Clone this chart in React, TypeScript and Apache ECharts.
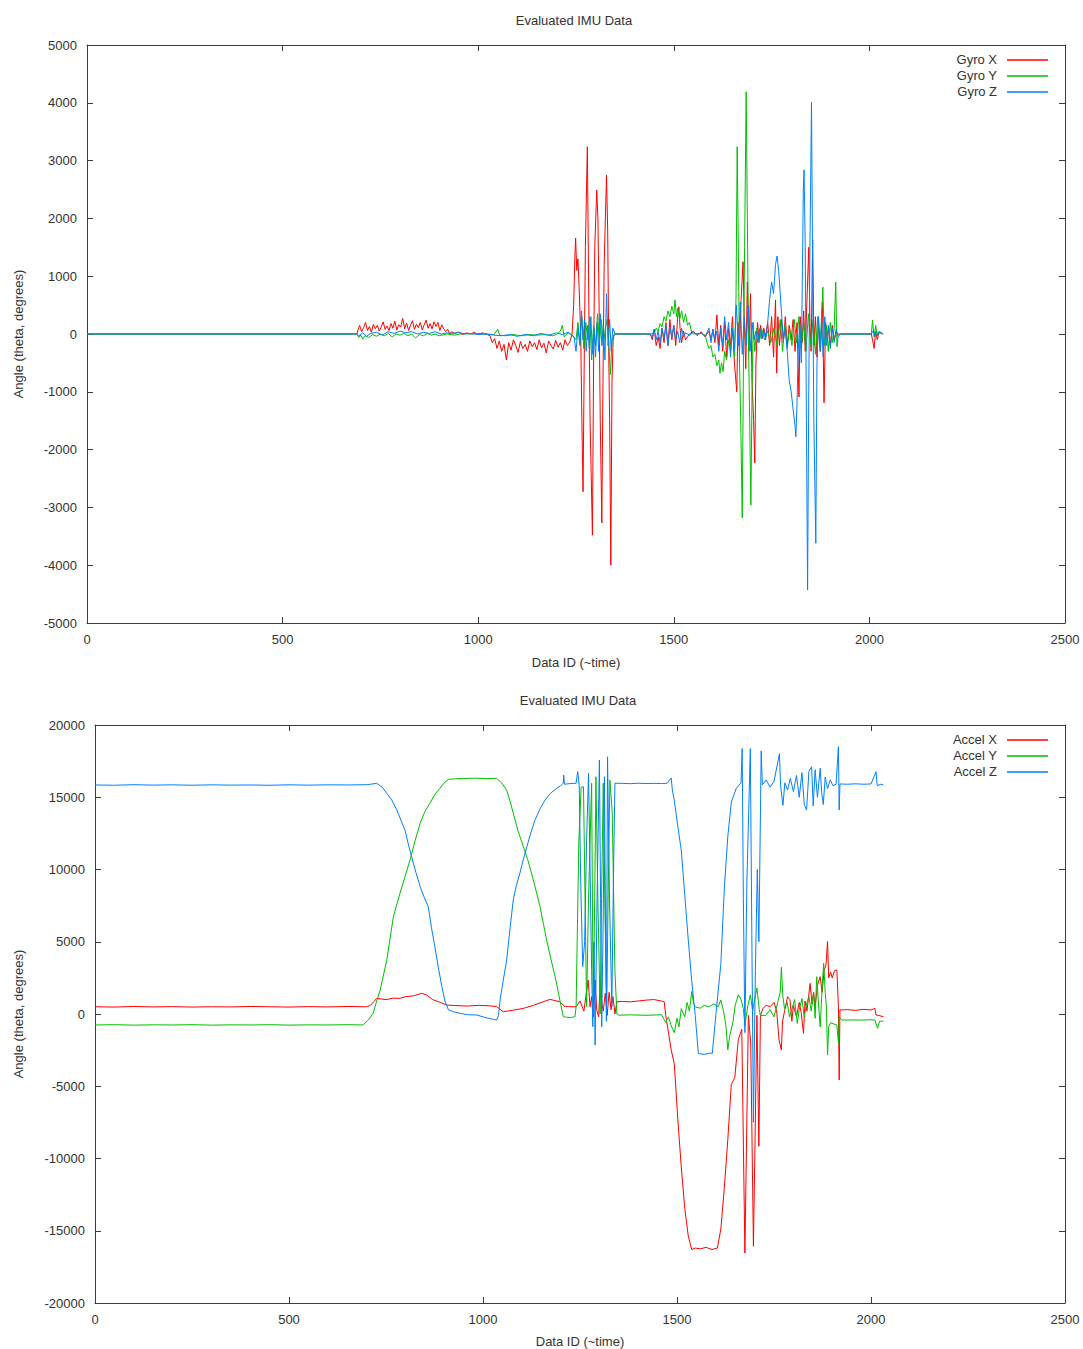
import React, { useEffect, useRef } from "react";
import * as echarts from "echarts";

// ---------- Data ----------
const titleText = "Evaluated IMU Data";
const xName = "Data ID (~time)";
const yName = "Angle (theta, degrees)";
const gyroNames = ["Gyro X", "Gyro Y", "Gyro Z"];
const accelNames = ["Accel X", "Accel Y", "Accel Z"];

const gyroX: number[][] = [[0,0],[680,0],[690,0],[692,60],[697,150],[702,40],[707,110],[712,200],[717,60],[722,130],[727,30],[732,170],[737,90],[742,150],[747,50],[752,120],[757,210],[762,80],[767,140],[772,60],[777,180],[782,100],[787,220],[792,70],[797,160],[802,120],[807,270],[812,90],[817,190],[822,60],[827,150],[832,230],[837,80],[842,170],[847,110],[852,200],[857,70],[862,160],[867,240],[872,100],[877,180],[882,90],[887,210],[892,130],[897,200],[902,60],[907,160],[912,90],[917,40],[922,80],[927,0],[932,40],[940,10],[950,30],[960,-10],[970,20],[980,0],[990,30],[1000,-10],[1010,20],[1020,0],[1030,-30],[1036,-150],[1042,-80],[1048,-250],[1054,-120],[1060,-300],[1066,-180],[1072,-450],[1078,-150],[1084,-280],[1090,-100],[1096,-200],[1102,-320],[1108,-130],[1114,-250],[1120,-180],[1126,-300],[1132,-120],[1138,-220],[1144,-150],[1150,-270],[1156,-100],[1162,-240],[1168,-160],[1174,-330],[1180,-120],[1186,-200],[1192,-260],[1198,-110],[1204,-230],[1210,-150],[1216,-280],[1222,-100],[1228,-200],[1234,-140],[1240,0],[1244,500],[1247,1300],[1249,1660],[1252,1100],[1255,1300],[1258,800],[1262,0],[1265,-1500],[1268,-2730],[1271,-500],[1274,1500],[1279,3240],[1282,1000],[1286,-1500],[1292,-3480],[1295,-500],[1298,1500],[1303,2490],[1306,2000],[1309,500],[1312,-1500],[1316,-3270],[1319,-800],[1322,1200],[1328,2750],[1331,1800],[1334,-500],[1336,-1500],[1339,-4000],[1342,-800],[1345,-100],[1348,0],[1440,0],[1445,-100],[1450,80],[1455,-200],[1460,-50],[1465,-250],[1470,100],[1475,-150],[1480,200],[1485,-200],[1490,250],[1495,-100],[1500,150],[1505,-200],[1510,300],[1513,470],[1516,100],[1520,-150],[1525,50],[1530,-100],[1540,0],[1550,50],[1560,-30],[1570,40],[1580,-50],[1590,50],[1595,-100],[1600,80],[1605,-150],[1610,330],[1615,-200],[1620,150],[1625,-300],[1630,200],[1635,-400],[1640,100],[1645,-200],[1650,300],[1655,-500],[1661,-1000],[1664,200],[1668,-300],[1672,600],[1677,1250],[1680,300],[1684,-600],[1688,900],[1692,-300],[1696,700],[1700,-800],[1704,-1500],[1707,-2230],[1710,-500],[1714,200],[1718,-100],[1722,150],[1726,-80],[1730,100],[1735,-50],[1740,200],[1745,-200],[1750,300],[1755,-400],[1760,588],[1763,-677],[1766,300],[1770,-200],[1775,250],[1780,-150],[1785,300],[1790,-200],[1795,150],[1800,-100],[1805,250],[1810,-300],[1815,200],[1820,-1090],[1823,300],[1828,-150],[1832,400],[1836,-300],[1840,500],[1845,1500],[1848,200],[1851,-300],[1855,1630],[1858,-200],[1862,300],[1866,-400],[1870,200],[1875,-300],[1880,550],[1884,-1190],[1888,200],[1892,-100],[1896,100],[1900,-200],[1905,150],[1910,-100],[1915,50],[1920,0],[2005,0],[2008,-100],[2012,-250],[2016,50],[2020,-100],[2025,30],[2035,0]];

const gyroY: number[][] = [[0,0],[690,0],[695,-60],[700,-20],[705,-90],[710,-30],[720,-60],[730,-10],[740,-40],[750,0],[760,-30],[770,10],[780,-50],[790,0],[800,-20],[810,10],[820,-30],[830,0],[840,-70],[850,-10],[860,-30],[870,10],[880,-20],[890,0],[900,-30],[920,0],[940,-20],[960,10],[980,0],[1000,10],[1020,0],[1040,-10],[1050,80],[1055,-20],[1070,-30],[1090,-10],[1110,-30],[1130,-10],[1150,-20],[1170,-10],[1190,-30],[1200,-10],[1210,50],[1215,150],[1220,-50],[1230,20],[1240,-20],[1250,-100],[1255,200],[1260,-150],[1265,300],[1270,-250],[1275,200],[1280,-100],[1285,300],[1290,-450],[1295,150],[1300,-200],[1305,350],[1310,-150],[1315,250],[1320,-200],[1325,100],[1330,250],[1335,-300],[1338,-700],[1342,-100],[1348,0],[1440,0],[1450,20],[1455,100],[1460,50],[1465,180],[1470,120],[1475,300],[1480,220],[1485,400],[1490,300],[1495,480],[1500,350],[1503,590],[1507,300],[1510,450],[1515,250],[1520,400],[1525,200],[1530,350],[1535,150],[1540,200],[1545,50],[1550,0],[1570,10],[1580,-20],[1585,-150],[1590,-250],[1595,-200],[1600,-400],[1605,-350],[1610,-550],[1615,-450],[1618,-680],[1622,-500],[1626,-650],[1630,-300],[1635,-450],[1640,-100],[1645,-300],[1650,100],[1655,-400],[1659,600],[1662,3240],[1665,1500],[1668,-500],[1671,-1500],[1675,-3180],[1678,-500],[1681,1500],[1685,4190],[1688,2000],[1691,-200],[1694,-1500],[1697,-2960],[1700,-1000],[1703,200],[1707,-300],[1712,100],[1718,-150],[1725,80],[1732,-100],[1740,50],[1748,-150],[1756,100],[1764,-200],[1772,250],[1778,-300],[1784,150],[1790,-250],[1796,100],[1802,-200],[1808,250],[1814,-150],[1820,300],[1826,-250],[1832,200],[1838,-300],[1844,350],[1850,-200],[1856,250],[1862,-350],[1868,300],[1874,-250],[1881,810],[1885,-200],[1890,150],[1895,-300],[1900,200],[1905,-150],[1910,100],[1914,900],[1917,-220],[1920,-50],[1925,0],[2005,0],[2008,240],[2012,-50],[2016,150],[2020,-30],[2025,50],[2035,0]];

const gyroZ: number[][] = [[0,0],[690,0],[695,-30],[705,20],[715,-40],[725,10],[740,30],[755,-20],[770,40],[785,10],[800,50],[815,20],[830,40],[845,0],[860,30],[875,10],[890,40],[905,0],[920,20],[935,10],[950,30],[965,0],[980,10],[1000,-10],[1020,0],[1040,-20],[1060,-30],[1080,-10],[1100,-40],[1120,-10],[1140,-30],[1160,10],[1180,-20],[1200,20],[1215,-10],[1230,30],[1245,-50],[1250,-300],[1255,100],[1260,-200],[1264,400],[1268,-100],[1272,250],[1276,-300],[1280,150],[1284,-250],[1288,300],[1292,-350],[1296,100],[1300,-400],[1304,200],[1308,-300],[1312,350],[1316,-200],[1320,150],[1324,-450],[1328,700],[1332,-200],[1336,250],[1340,-300],[1344,100],[1350,0],[1440,0],[1445,-50],[1450,80],[1455,-100],[1460,50],[1465,-150],[1470,100],[1475,-80],[1480,150],[1485,-200],[1490,100],[1495,-50],[1500,150],[1505,-100],[1510,50],[1515,-150],[1520,100],[1525,-50],[1530,20],[1540,-20],[1550,30],[1560,-10],[1570,20],[1580,-40],[1590,100],[1595,-150],[1600,80],[1605,-100],[1610,50],[1615,-300],[1620,100],[1625,-200],[1630,300],[1635,-100],[1640,200],[1645,-400],[1650,100],[1655,-300],[1660,500],[1665,-200],[1670,550],[1675,-350],[1680,300],[1685,-200],[1690,500],[1695,-300],[1700,200],[1705,-100],[1710,50],[1715,-150],[1720,100],[1725,-80],[1730,50],[1735,-100],[1740,200],[1745,600],[1750,900],[1755,700],[1760,1200],[1764,1350],[1768,1100],[1772,700],[1776,300],[1780,-100],[1785,100],[1790,-300],[1795,-800],[1800,-1000],[1805,-1300],[1810,-1600],[1812,-1780],[1815,-1200],[1818,-300],[1822,200],[1826,-500],[1830,1800],[1831,2490],[1833,2840],[1836,1500],[1839,-1500],[1842,-4430],[1845,-1000],[1848,1500],[1852,4010],[1855,1000],[1858,-1500],[1863,-3620],[1866,-500],[1870,300],[1874,-300],[1878,200],[1882,-400],[1886,300],[1890,-200],[1895,150],[1900,-250],[1905,100],[1910,-150],[1915,80],[1920,-50],[1925,0],[2005,0],[2010,60],[2014,-40],[2018,50],[2022,-20],[2026,30],[2035,0]];

const accelX: number[][] = [[0,500],[50,480],[100,520],[150,490],[200,510],[250,480],[300,500],[350,490],[400,520],[450,500],[500,480],[550,510],[600,490],[650,520],[700,500],[710,600],[726,1080],[750,1000],[770,1100],[786,1080],[800,1200],[820,1250],[842,1430],[855,1310],[870,1000],[890,800],[906,620],[930,580],[960,550],[990,600],[1020,560],[1035,510],[1052,160],[1075,250],[1104,390],[1130,600],[1150,800],[1173,1010],[1198,850],[1211,510],[1240,500],[1250,900],[1260,200],[1265,1200],[1271,2350],[1276,500],[1280,1200],[1284,-200],[1289,2350],[1293,300],[1298,-190],[1302,1890],[1306,800],[1310,200],[1315,1430],[1320,-100],[1325,1500],[1330,300],[1335,1200],[1340,0],[1345,850],[1360,870],[1380,840],[1400,900],[1420,960],[1440,1000],[1460,900],[1467,850],[1471,-100],[1485,-2480],[1493,-3440],[1502,-7250],[1511,-10590],[1520,-13450],[1529,-15360],[1538,-16300],[1547,-16200],[1560,-16250],[1575,-16150],[1590,-16300],[1604,-16200],[1613,-14880],[1622,-12020],[1631,-8680],[1640,-4870],[1649,-4400],[1658,-1770],[1667,-1060],[1675,-16540],[1684,-100],[1690,-2000],[1697,-16070],[1706,-100],[1711,-9150],[1715,-100],[1722,400],[1730,600],[1740,500],[1750,800],[1757,200],[1763,-1800],[1769,-2480],[1772,-500],[1778,300],[1785,1200],[1791,1000],[1796,-500],[1800,600],[1808,-200],[1815,800],[1820,100],[1826,-1340],[1830,900],[1835,200],[1843,2120],[1848,700],[1852,1500],[1856,500],[1862,2000],[1869,2580],[1874,1500],[1879,3000],[1884,3390],[1888,5010],[1891,2500],[1896,2900],[1900,2500],[1906,3000],[1912,3050],[1916,510],[1918,-4570],[1920,280],[1940,300],[1960,250],[1980,320],[2000,280],[2010,390],[2013,-70],[2020,-100],[2032,-190]];

const accelY: number[][] = [[0,-760],[50,-740],[100,-770],[150,-750],[200,-760],[250,-740],[300,-770],[350,-750],[400,-760],[450,-740],[500,-770],[550,-750],[600,-760],[650,-740],[691,-760],[705,-400],[717,50],[726,900],[735,1660],[752,3740],[769,6730],[786,8350],[800,9600],[812,10660],[825,12000],[838,13200],[850,14000],[863,14580],[876,15200],[889,15620],[900,16000],[911,16240],[930,16280],[950,16300],[980,16320],[1010,16290],[1035,16310],[1048,16000],[1061,15500],[1070,14700],[1078,13890],[1090,12700],[1104,11580],[1115,10700],[1125,9740],[1136,8600],[1147,7430],[1156,6200],[1164,5120],[1175,3800],[1186,2580],[1198,970],[1207,-190],[1215,-220],[1225,-250],[1237,-190],[1240,500],[1247,12000],[1253,15700],[1259,15730],[1263,8000],[1267,510],[1272,8000],[1280,15970],[1284,0],[1288,8000],[1291,16420],[1296,8000],[1302,0],[1306,9000],[1310,15970],[1315,6000],[1319,740],[1323,9000],[1327,16190],[1333,14000],[1340,3000],[1345,0],[1350,-80],[1380,-60],[1420,-90],[1460,-50],[1471,-580],[1478,-200],[1485,-810],[1493,-1290],[1500,-300],[1505,-900],[1511,370],[1520,-200],[1526,800],[1532,200],[1538,1560],[1543,700],[1547,490],[1560,400],[1570,600],[1582,500],[1595,700],[1606,500],[1613,970],[1620,200],[1626,-800],[1631,-2480],[1636,-1500],[1644,-580],[1650,600],[1658,1330],[1665,1000],[1671,370],[1675,-810],[1682,500],[1689,1330],[1695,200],[1700,1000],[1706,1800],[1712,300],[1715,-100],[1729,-100],[1740,300],[1750,-200],[1760,850],[1766,1500],[1769,3230],[1773,1200],[1777,370],[1784,800],[1790,-200],[1797,400],[1803,1000],[1810,-650],[1815,300],[1822,1070],[1828,-200],[1834,700],[1840,1197],[1846,200],[1852,1500],[1856,-300],[1860,2580],[1866,200],[1869,-900],[1874,1800],[1878,3510],[1882,1500],[1885,500],[1888,-2840],[1891,-880],[1896,-600],[1905,-700],[1912,-760],[1916,-2000],[1918,-190],[1925,-420],[1950,-410],[1975,-420],[2000,-400],[2010,-420],[2017,-990],[2022,-500],[2032,-500]];

const accelZ: number[][] = [[0,15850],[50,15830],[100,15870],[150,15840],[200,15860],[250,15830],[300,15860],[350,15840],[400,15850],[450,15830],[500,15860],[550,15840],[600,15860],[650,15850],[700,15870],[710,15900],[726,15960],[740,15700],[752,15270],[765,14800],[778,14120],[790,13300],[799,12730],[808,11700],[816,10890],[827,9800],[838,8810],[848,8100],[859,7430],[867,6000],[876,4660],[885,3200],[894,1890],[902,900],[911,280],[925,150],[941,50],[960,-50],[984,-70],[1000,-200],[1015,-300],[1027,-370],[1035,-420],[1040,-100],[1044,970],[1052,2300],[1061,3740],[1070,6000],[1078,7890],[1086,8900],[1095,9740],[1104,10700],[1113,11580],[1124,12600],[1134,13430],[1147,14200],[1160,14810],[1175,15300],[1190,15620],[1200,15800],[1207,15970],[1208,16540],[1210,15900],[1225,15950],[1240,15970],[1244,16770],[1248,15800],[1252,9000],[1257,3280],[1262,5000],[1267,12000],[1272,16660],[1276,10000],[1280,3000],[1283,-880],[1286,5000],[1289,-2150],[1294,8000],[1300,17580],[1303,8000],[1306,-880],[1310,7000],[1313,16420],[1316,5000],[1318,-500],[1321,17800],[1326,8000],[1332,510],[1336,9000],[1340,15970],[1360,15960],[1380,15940],[1400,15970],[1420,15950],[1440,15960],[1460,15950],[1475,15970],[1485,16340],[1488,15500],[1493,14790],[1502,13000],[1511,11340],[1520,8240],[1529,5140],[1538,2280],[1547,-100],[1555,-2730],[1570,-2800],[1585,-2700],[1591,-2730],[1600,-100],[1613,3470],[1622,8720],[1631,12290],[1640,14670],[1653,15630],[1665,15990],[1668,18370],[1671,8000],[1675,-1290],[1680,9000],[1689,18370],[1693,5000],[1697,-7490],[1702,3000],[1707,10000],[1711,5000],[1717,18200],[1720,15860],[1730,16200],[1740,15700],[1750,16100],[1764,18010],[1767,15800],[1773,14440],[1778,16000],[1785,15500],[1792,16300],[1800,15400],[1808,16500],[1815,15000],[1822,16700],[1828,14500],[1834,14120],[1840,16800],[1847,17110],[1851,14400],[1856,16900],[1862,15000],[1869,17000],[1873,15300],[1877,14500],[1882,16400],[1888,15600],[1895,16200],[1902,15800],[1910,15900],[1916,18500],[1918,14120],[1920,15920],[1940,15900],[1960,15930],[1980,15900],[2000,15920],[2013,16770],[2016,15800],[2025,15900],[2032,15850]];

const xTickInterval = 500;
const xMin = 0;
const xMax = 2500;
const gyroRange = [-5000, 5000, 1000];
const accelRange = [-20000, 20000, 5000];

// ---------- Styles ----------
const FONT = "'Liberation Sans', Arial, sans-serif";
const TXT = "#333333";
const AXC = "#3c3c3c";
const COLORS = ["#ff0000", "#00c000", "#0080ff"];
const FS = 13;

const W = 1083;
const H = 1349;
const grids = [
  { left: 87, top: 45, width: 978, height: 578 },
  { left: 95, top: 725, width: 970, height: 578 },
];

const plain = (v: number) => String(v);

function xAxes(gi: number, mirror: boolean, nameGap: number) {
  return {
    type: "value",
    gridIndex: gi,
    position: mirror ? "top" : "bottom",
    min: xMin,
    max: xMax,
    interval: xTickInterval,
    name: mirror ? "" : xName,
    nameLocation: "middle",
    nameGap,
    nameTextStyle: { color: TXT, fontFamily: FONT, fontSize: FS },
    axisLine: { show: true, onZero: false, lineStyle: { color: AXC, width: 1 } },
    axisTick: { show: true, inside: true, length: 6, lineStyle: { color: AXC } },
    axisLabel: { show: !mirror, color: TXT, fontFamily: FONT, fontSize: FS, margin: 10, formatter: plain },
    splitLine: { show: false },
  };
}

function yAxes(gi: number, r: number[], mirror: boolean, nameGap: number) {
  return {
    type: "value",
    gridIndex: gi,
    position: mirror ? "right" : "left",
    min: r[0],
    max: r[1],
    interval: r[2],
    name: mirror ? "" : yName,
    nameLocation: "middle",
    nameGap,
    nameRotate: 90,
    nameTextStyle: { color: TXT, fontFamily: FONT, fontSize: FS },
    axisLine: { show: true, onZero: false, lineStyle: { color: AXC, width: 1 } },
    axisTick: { show: true, inside: true, length: 6, lineStyle: { color: AXC } },
    axisLabel: { show: !mirror, color: TXT, fontFamily: FONT, fontSize: FS, margin: 10, formatter: plain },
    splitLine: { show: false },
  };
}

function mkSeries(name: string, data: number[][], color: string, axisIdx: number) {
  return {
    name,
    type: "line",
    data,
    xAxisIndex: axisIdx,
    yAxisIndex: axisIdx,
    showSymbol: false,
    symbol: "none",
    color,
    itemStyle: { color },
    lineStyle: { color, width: 1 },
    emphasis: { disabled: true },
    silent: true,
    clip: true,
  };
}

// Legend drawn as text + short line samples (gnuplot style key)
function mkKey(names: string[], top: number) {
  const out: any[] = [];
  names.forEach((n, i) => {
    const y = top + i * 16;
    out.push({
      type: "text",
      x: 997,
      y,
      style: { text: n, fill: TXT, font: `${FS}px ${FONT}`, align: "right", verticalAlign: "middle" },
    });
    out.push({
      type: "line",
      shape: { x1: 1007, y1: y + 1, x2: 1048, y2: y + 1 },
      style: { stroke: COLORS[i], lineWidth: 1.3 },
    });
  });
  return out;
}

export default function App() {
  const ref = useRef<HTMLDivElement>(null);
  useEffect(() => {
    document.body.style.margin = "0";
    const chart = echarts.init(ref.current!, undefined, { renderer: "svg", width: W, height: H });
    const option: any = {
      animation: false,
      backgroundColor: "#ffffff",
      grid: grids.map((g) => ({ ...g, containLabel: false })),
      xAxis: [xAxes(0, false, 33), xAxes(0, true, 0), xAxes(1, false, 32), xAxes(1, true, 0)],
      yAxis: [
        yAxes(0, gyroRange, false, 62),
        yAxes(0, gyroRange, true, 0),
        yAxes(1, accelRange, false, 70),
        yAxes(1, accelRange, true, 0),
      ],
      series: [
        mkSeries(gyroNames[0], gyroX, COLORS[0], 0),
        mkSeries(gyroNames[1], gyroY, COLORS[1], 0),
        mkSeries(gyroNames[2], gyroZ, COLORS[2], 0),
        mkSeries(accelNames[0], accelX, COLORS[0], 2),
        mkSeries(accelNames[1], accelY, COLORS[1], 2),
        mkSeries(accelNames[2], accelZ, COLORS[2], 2),
      ],
      graphic: [
        {
          type: "text",
          x: 574,
          y: 20,
          style: { text: titleText, fill: TXT, font: `${FS}px ${FONT}`, align: "center", verticalAlign: "middle" },
        },
        {
          type: "text",
          x: 578,
          y: 700,
          style: { text: titleText, fill: TXT, font: `${FS}px ${FONT}`, align: "center", verticalAlign: "middle" },
        },
        ...mkKey(gyroNames, 59),
        ...mkKey(accelNames, 739),
      ],
    };
    chart.setOption(option);
    return () => chart.dispose();
  }, []);
  return (
    <div
      ref={ref}
      style={{ position: "absolute", left: 0, top: 0, width: W, height: H, background: "#fff" }}
    />
  );
}
